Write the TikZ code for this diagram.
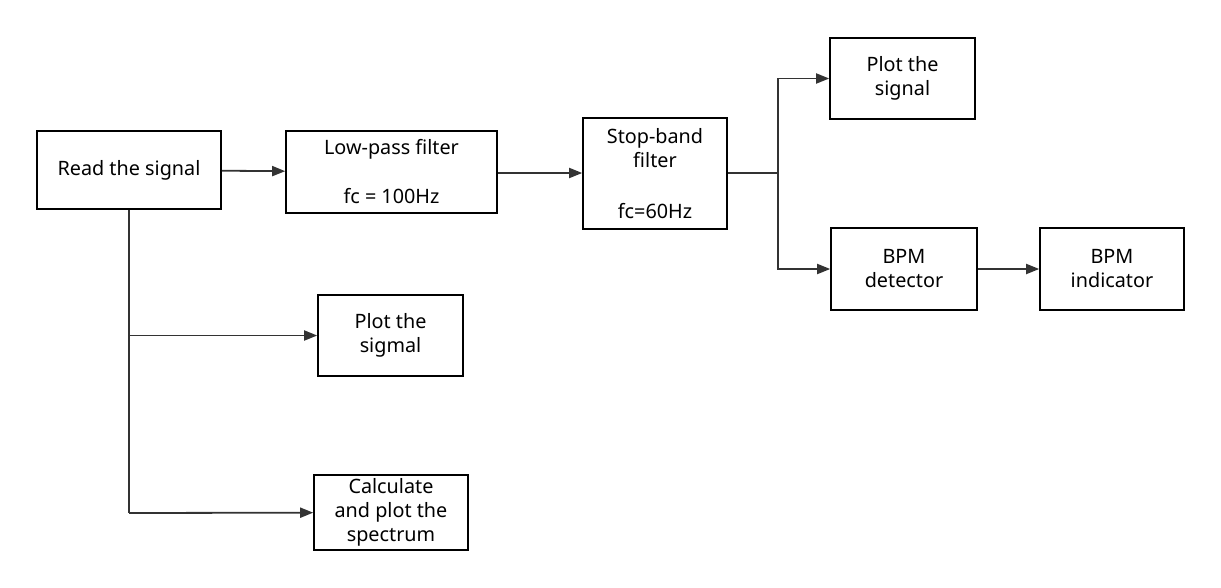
\documentclass[tikz,border=0pt]{standalone}
\usepackage{fontspec}
\setmainfont{Noto Sans}
\usetikzlibrary{arrows.meta}
\definecolor{linegray}{HTML}{333333}
\begin{document}
\begin{tikzpicture}[
                x = 1pt, y = -1pt,
                box/.style = {draw, line width = 1.6pt, align = center, inner sep = 0pt,
                              font = \fontsize{19.8}{24}\selectfont},
                arr/.style = {draw = linegray, line width = 1.8pt, -{Triangle[length = 13pt, width = 10pt]}},
                ln/.style = {draw = linegray, line width = 1.8pt},
            ]
            \useasboundingbox (0,0) rectangle (1221,587);

            \node (read) [box, minimum width = 184pt, minimum height = 78pt] at (129,170){Read the signal};
            \node (lp) [box, minimum width = 211pt, minimum height = 82pt] at (391.5,172){Low-pass filter\\[25pt]fc = 100Hz};
            \node (sb) [box, minimum width = 144pt, minimum height = 111pt] at (655,173.5){Stop-band\\filter\\[27pt]fc=60Hz};
            \node (plot) [box, minimum width = 145pt, minimum height = 81pt] at (902.5,78.5){Plot the\\signal};
            \node (det) [box, minimum width = 146pt, minimum height = 82pt] at (904,269){BPM\\detector};
            \node (ind) [box, minimum width = 144pt, minimum height = 82pt] at (1112,269){BPM\\indicator};
            \node (sig) [box, minimum width = 145pt, minimum height = 81pt] at (390.5,335.5){Plot the\\sigmal};
            \node (spec) [box, minimum width = 154pt, minimum height = 75pt] at (391,512.5){Calculate\\and plot the\\spectrum};

            \coordinate (split) at (778,173);
            \coordinate (down) at (129,513);

            \path[arr] (read) -- (lp);
            \path[arr] (lp.east |- 0,173) -- (sb.west |- 0,173);
            \path[ln] (sb.east |- split) -- (split);
            \path[arr] (split) |- (plot);
            \path[arr] (split) |- (det);
            \path[arr] (det) -- (ind);

            \path[ln] (read.south) -- (down);
            \path[arr] (read.south |- sig) -- (sig);
            \path[arr] (down) -- (spec);
        \end{tikzpicture}
\end{document}
